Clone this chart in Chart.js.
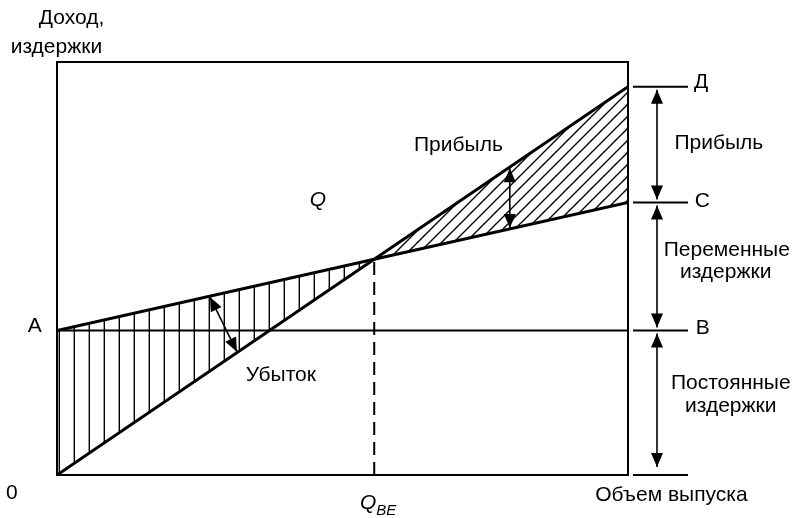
<!DOCTYPE html>
<html>
<head>
<meta charset="utf-8">
<script src="https://cdn.jsdelivr.net/npm/chart.js@4.4.0/dist/chart.umd.min.js"></script>
<style>
  html, body { margin: 0; padding: 0; background: #fff; }
</style>
</head>
<body>
<canvas id="breakEvenChart" width="795" height="518"></canvas>
<script>
// объем выпуска (ось X) и уровни затрат/дохода (ось Y), в условных единицах
const outputRange = [0, 100];
const valueRange = [0, 100];
const fixedCost = 35;      // линия А-В
const totalCostEnd = 66;   // точка С
const revenueEnd = 94;     // точка Д

// точка безубыточности — пересечение линий дохода и издержек
const revenueSlope = revenueEnd / outputRange[1];
const costSlope = (totalCostEnd - fixedCost) / outputRange[1];
const beX = fixedCost / (revenueSlope - costSlope);
const beY = revenueSlope * beX;

const revenueLine = [{x: 0, y: 0}, {x: beX, y: beY}, {x: outputRange[1], y: revenueEnd}];
const costLine = [{x: 0, y: fixedCost}, {x: beX, y: beY}, {x: outputRange[1], y: totalCostEnd}];
const fixedLine = [{x: 0, y: fixedCost}, {x: outputRange[1], y: fixedCost}];
const beLine = [{x: beX, y: 0}, {x: beX, y: beY}];

const FONT = '"Liberation Sans", Arial, sans-serif';

function hatch(kind) {
  const c = document.createElement('canvas');
  const s = kind === 'vertical' ? 15 : 12;
  c.width = s; c.height = s;
  const g = c.getContext('2d');
  g.strokeStyle = '#000';
  g.lineWidth = 1.4;
  g.beginPath();
  if (kind === 'vertical') {
    g.moveTo(14.3, 0); g.lineTo(14.3, s);
  } else {
    g.moveTo(-2, s + 2); g.lineTo(s + 2, -2);
    g.moveTo(-2, 2); g.lineTo(2, -2);
    g.moveTo(s - 2, s + 2); g.lineTo(s + 2, s - 2);
  }
  g.stroke();
  return g.createPattern(c, 'repeat');
}

function arrowHead(ctx, tx, ty, fx, fy) {
  const len = 14, half = 6;
  const dx = tx - fx, dy = ty - fy;
  const d = Math.hypot(dx, dy);
  const ux = dx / d, uy = dy / d;
  ctx.beginPath();
  ctx.moveTo(tx, ty);
  ctx.lineTo(tx - ux * len - uy * half, ty - uy * len + ux * half);
  ctx.lineTo(tx - ux * len + uy * half, ty - uy * len - ux * half);
  ctx.closePath();
  ctx.fill();
}

function doubleArrow(ctx, x1, y1, x2, y2) {
  ctx.beginPath();
  ctx.moveTo(x1, y1); ctx.lineTo(x2, y2);
  ctx.stroke();
  arrowHead(ctx, x1, y1, x2, y2);
  arrowHead(ctx, x2, y2, x1, y1);
}

const texts = [
  {t: 'Доход,', x: 2.54, y: 110.7},
  {t: 'издержки', x: -0.1, y: 103.6},
  {t: '0', x: -7.9, y: -4.4},
  {t: 'А', x: -3.9, y: 36.1},
  {t: 'Д', x: 112.8, y: 95.2},
  {t: 'С', x: 113, y: 66.3},
  {t: 'В', x: 113.1, y: 35.6},
  {t: 'Прибыль', x: 115.9, y: 80.4},
  {t: 'Переменные', x: 117.3, y: 54.5},
  {t: 'издержки', x: 117.1, y: 49.2},
  {t: 'Постоянные', x: 118.0, y: 22.3},
  {t: 'издержки', x: 118.0, y: 16.7},
  {t: 'Объем выпуска', x: 107.6, y: -4.8},
  {t: 'Прибыль', x: 70.3, y: 79.9},
  {t: 'Убыток', x: 39.2, y: 24.2}
];

const decorations = {
  id: 'decorations',
  afterDatasetsDraw(chart) {
    const {ctx, chartArea: a, scales: {x, y}} = chart;
    const px = v => x.getPixelForValue(v);
    const py = v => y.getPixelForValue(v);
    ctx.save();
    ctx.strokeStyle = '#000';
    ctx.fillStyle = '#000';

    // рамка
    ctx.lineWidth = 2;
    ctx.strokeRect(a.left, a.top, a.right - a.left, a.bottom - a.top);

    // отметки справа
    [revenueEnd, totalCostEnd, fixedCost, 0].forEach(v => {
      ctx.beginPath();
      ctx.moveTo(a.right + 5, py(v));
      ctx.lineTo(a.right + 60, py(v));
      ctx.stroke();
    });

    // стрелки справа
    ctx.lineWidth = 1.6;
    const ax = a.right + 29;
    doubleArrow(ctx, ax, py(revenueEnd) + 3, ax, py(totalCostEnd) - 3);
    doubleArrow(ctx, ax, py(totalCostEnd) + 3, ax, py(fixedCost) - 3);
    doubleArrow(ctx, ax, py(fixedCost) + 3, ax, py(0) - 8);

    // стрелка убытка
    const l1 = 26.8, l2 = 31.5;
    doubleArrow(ctx, px(l1), py(fixedCost + costSlope * l1) + 1, px(l2), py(revenueSlope * l2) - 1);
    // стрелка прибыли
    const p = 79.3;
    doubleArrow(ctx, px(p), py(revenueSlope * p) + 1, px(p), py(fixedCost + costSlope * p) - 1);

    // подписи
    ctx.font = '21px ' + FONT;
    ctx.textAlign = 'center';
    ctx.textBaseline = 'middle';
    texts.forEach(o => ctx.fillText(o.t, px(o.x), py(o.y)));

    ctx.font = 'italic 21px ' + FONT;
    ctx.fillText('Q', px(45.7), py(66.6));
    ctx.textAlign = 'right';
    ctx.fillText('Q', px(beX) + 2, py(-6.8));
    ctx.textAlign = 'left';
    ctx.font = 'italic 15px ' + FONT;
    ctx.fillText('BE', px(beX) + 2, py(-8.6));
    ctx.restore();
  }
};

const ctx = document.getElementById('breakEvenChart').getContext('2d');

new Chart(ctx, {
  type: 'scatter',
  data: {
    datasets: [
      {data: revenueLine, showLine: true, borderColor: '#000', borderWidth: 3, pointRadius: 0, fill: false},
      {data: costLine, showLine: true, borderColor: '#000', borderWidth: 3, pointRadius: 0, fill: false},
      {data: fixedLine, showLine: true, borderColor: '#000', borderWidth: 2, pointRadius: 0, fill: false},
      {data: beLine, showLine: true, borderColor: '#000', borderWidth: 2, borderDash: [13, 7], pointRadius: 0, fill: false},
      // штриховка убытков
      {data: costLine.slice(0, 2), showLine: true, borderWidth: 0, borderColor: 'rgba(0,0,0,0)', pointRadius: 0,
       fill: '+1', backgroundColor: hatch('vertical')},
      {data: revenueLine.slice(0, 2), showLine: true, borderWidth: 0, borderColor: 'rgba(0,0,0,0)', pointRadius: 0, fill: false},
      // штриховка прибыли
      {data: revenueLine.slice(1), showLine: true, borderWidth: 0, borderColor: 'rgba(0,0,0,0)', pointRadius: 0,
       fill: '+1', backgroundColor: hatch('diagonal')},
      {data: costLine.slice(1), showLine: true, borderWidth: 0, borderColor: 'rgba(0,0,0,0)', pointRadius: 0, fill: false}
    ]
  },
  options: {
    responsive: false,
    animation: false,
    layout: {padding: {left: 57, right: 167, top: 62, bottom: 43}},
    plugins: {legend: {display: false}, tooltip: {enabled: false}},
    scales: {
      x: {type: 'linear', min: outputRange[0], max: outputRange[1], display: false},
      y: {type: 'linear', min: valueRange[0], max: valueRange[1], display: false}
    }
  },
  plugins: [decorations]
});
</script>
</body>
</html>
